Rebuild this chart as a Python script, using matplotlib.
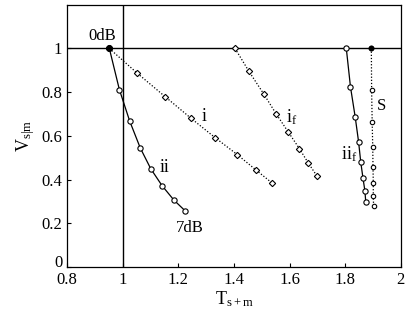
import matplotlib.pyplot as plt
from matplotlib.transforms import ScaledTranslation

plt.rcParams['font.family'] = 'Liberation Serif'
plt.rcParams['mathtext.fontset'] = 'custom'
plt.rcParams['mathtext.rm'] = 'Liberation Serif'
plt.rcParams['mathtext.it'] = 'Liberation Serif'

# curve data
i_x = [0.952, 1.053, 1.152, 1.246, 1.332, 1.412, 1.479, 1.538]
i_y = [1.0, 0.886, 0.78, 0.68, 0.592, 0.514, 0.444, 0.383]

ii_x = [0.952, 0.988, 1.025, 1.063, 1.101, 1.142, 1.184, 1.225]
ii_y = [1.0, 0.812, 0.668, 0.545, 0.449, 0.371, 0.306, 0.256]

if_x = [1.404, 1.454, 1.508, 1.551, 1.595, 1.635, 1.668, 1.698]
if_y = [1.0, 0.895, 0.79, 0.702, 0.618, 0.542, 0.474, 0.417]

iif_x = [1.804, 1.819, 1.836, 1.848, 1.856, 1.864, 1.871, 1.874]
iif_y = [1.0, 0.824, 0.686, 0.574, 0.479, 0.406, 0.347, 0.295]

s_x = [1.894, 1.895, 1.897, 1.899, 1.900, 1.901, 1.901, 1.902]
s_y = [1.0, 0.81, 0.665, 0.55, 0.456, 0.383, 0.326, 0.279]

fig = plt.figure(figsize=(4.09, 3.2), dpi=100)
ax = fig.add_axes([0.164, 0.166, 0.816, 0.819])

ax.axhline(1, color='black', lw=1)
ax.axvline(1, color='black', lw=1)

mk = dict(mfc='white', mec='black', mew=0.8, color='black', lw=0.9)
ax.plot(i_x, i_y, ls=(0, (1, 1.5)), marker='D', ms=3.2, **mk)
ax.plot(ii_x, ii_y, ls='-', marker='o', ms=3.8, **mk)
ax.plot(if_x, if_y, ls=(0, (1, 1.5)), marker='D', ms=3.2, **mk)
ax.plot(iif_x, iif_y, ls='-', marker='o', ms=3.8, **mk)
ax.plot(s_x, s_y, ls=(0, (1, 1.5)), marker='o', ms=3.2, **mk)
ax.plot(s_x[0], s_y[0], marker='o', ms=3.2, color='black')
ax.plot(i_x[0], i_y[0], marker='o', ms=4, color='black')

fs = 12
ax.text(0.925, 1.055, '0dB', fontsize=fs, ha='center', va='center')
ax.text(1.242, 0.177, '7dB', fontsize=fs, ha='center', va='center')
ax.text(1.292, 0.69, 'i', fontsize=fs + 1, ha='center', va='center')
ax.text(1.149, 0.455, 'ii', fontsize=fs + 1, ha='center', va='center')
ax.text(1.607, 0.686, r'$\mathrm{i_f}$', fontsize=fs + 1, ha='center', va='center')
ax.text(1.814, 0.514, r'$\mathrm{ii_f}$', fontsize=fs + 1, ha='center', va='center')
ax.text(1.931, 0.736, 'S', fontsize=fs, ha='center', va='center')

ax.set_xlim(0.8, 2.0)
ax.set_ylim(0, 1.2)
ax.set_xticks([0.8, 1.0, 1.2, 1.4, 1.6, 1.8, 2.0])
ax.set_xticklabels(['0.8', '1', '1.2', '1.4', '1.6', '1.8', '2'])
ax.set_yticks([0, 0.2, 0.4, 0.6, 0.8, 1.0])
ax.set_yticklabels(['0', '0.2', '0.4', '0.6', '0.8', '1'])
ax.tick_params(direction='in', length=3, labelsize=12, width=0.8)
for sp in ax.spines.values():
    sp.set_linewidth(0.9)

# nudge the y "0" label up so it clears the x "0.8" label
lab0 = ax.get_yticklabels()[0]
lab0.set_transform(lab0.get_transform() + ScaledTranslation(0, 4 / 72, fig.dpi_scale_trans))

ax.set_xlabel(r'$\mathrm{T_{s+m}}$', fontsize=13, labelpad=1)
ax.set_ylabel(r'$\mathrm{V_{s|m}}$', fontsize=13, labelpad=3)

fig.savefig('out.png', dpi=100)
